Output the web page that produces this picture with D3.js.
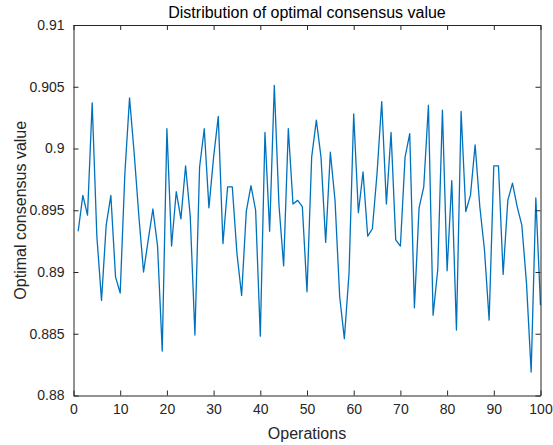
<!DOCTYPE html>
<html>
<head>
<meta charset="utf-8">
<script src="https://cdn.jsdelivr.net/npm/d3@7"></script>
<style>
  body { margin: 0; background: #fff; }
  text { font-family: "Liberation Sans", Arial, sans-serif; }
</style>
</head>
<body>
<div class="chart"></div>
<script>
// values, operations 1..100
const values = [
  0.8933, 0.8962, 0.8946, 0.9037, 0.8929, 0.8877, 0.8938, 0.8962, 0.8896, 0.8883,
  0.8980, 0.9041, 0.8996, 0.8945, 0.8900, 0.8926, 0.8951, 0.8921, 0.8836, 0.9016,
  0.8921, 0.8965, 0.8943, 0.8986, 0.8945, 0.8849, 0.8985, 0.9016, 0.8952, 0.8993,
  0.9026, 0.8923, 0.8969, 0.8969, 0.8915, 0.8881, 0.8949, 0.8970, 0.8950, 0.8848,
  0.9013, 0.8933, 0.9051, 0.8954, 0.8905, 0.9016, 0.8955, 0.8958, 0.8953, 0.8884,
  0.8993, 0.9023, 0.8993, 0.8924, 0.8997, 0.8958, 0.8880, 0.8846, 0.8899, 0.9028,
  0.8948, 0.8981, 0.8929, 0.8935, 0.8980, 0.9038, 0.8955, 0.9013, 0.8926, 0.8921,
  0.8993, 0.9012, 0.8871, 0.8952, 0.8969, 0.9035, 0.8865, 0.8902, 0.9031, 0.8901,
  0.8974, 0.8853, 0.9030, 0.8949, 0.8962, 0.9003, 0.8953, 0.8918, 0.8861, 0.8986,
  0.8986, 0.8898, 0.8958, 0.8972, 0.8953, 0.8938, 0.8891, 0.8819, 0.8960, 0.8873
];
const operations = values.map((v, i) => i + 1);
const xTicks = [0, 10, 20, 30, 40, 50, 60, 70, 80, 90, 100];
const yTicks = [0.88, 0.885, 0.89, 0.895, 0.9, 0.905, 0.91];

const W = 553, H = 445;
const plotL = 73.5, plotR = 540.5, plotT = 25, plotB = 395.5;
const axisColor = "#262626";

const x = d3.scaleLinear().domain([0, 100]).range([plotL, plotR]);
const y = d3.scaleLinear().domain([0.88, 0.91]).range([plotB, plotT]);

const svg = d3.select(".chart").append("svg")
  .attr("width", W)
  .attr("height", H);

// data line
svg.append("path")
  .datum(operations.map((o, i) => [o, values[i]]))
  .attr("fill", "none")
  .attr("stroke", "#0072BD")
  .attr("stroke-width", 1.3)
  .attr("stroke-linejoin", "round")
  .attr("d", d3.line().x(d => x(d[0])).y(d => y(d[1])));

// axes (ticks pointing inward, MATLAB style box)
const fmt = d => String(+d.toFixed(3));
svg.append("g")
  .attr("transform", `translate(0,${plotB})`)
  .call(d3.axisBottom(x).tickValues(xTicks).tickSize(-5).tickPadding(9).tickSizeOuter(0));
svg.append("g")
  .attr("transform", `translate(0,${plotT})`)
  .call(d3.axisTop(x).tickValues(xTicks).tickSize(-5).tickFormat("").tickSizeOuter(0));
svg.append("g")
  .attr("transform", `translate(${plotL},0)`)
  .call(d3.axisLeft(y).tickValues(yTicks).tickSize(-5).tickPadding(9).tickFormat(fmt).tickSizeOuter(0));
svg.append("g")
  .attr("transform", `translate(${plotR},0)`)
  .call(d3.axisRight(y).tickValues(yTicks).tickSize(-5).tickFormat("").tickSizeOuter(0));

svg.selectAll(".domain, .tick line")
  .attr("stroke", axisColor)
  .attr("stroke-width", 1);
svg.selectAll(".tick text")
  .attr("fill", axisColor)
  .style("font-size", "14px")
  .style("font-family", "'Liberation Sans', Arial, sans-serif");

// title and axis labels
svg.append("text")
  .attr("x", (plotL + plotR) / 2)
  .attr("y", 18)
  .attr("text-anchor", "middle")
  .attr("fill", "#000")
  .style("font-size", "16px")
  .text("Distribution of optimal consensus value");

svg.append("text")
  .attr("x", (plotL + plotR) / 2)
  .attr("y", 439)
  .attr("text-anchor", "middle")
  .attr("fill", axisColor)
  .style("font-size", "16px")
  .text("Operations");

svg.append("text")
  .attr("transform", `translate(26,${(plotT + plotB) / 2}) rotate(-90)`)
  .attr("text-anchor", "middle")
  .attr("fill", axisColor)
  .style("font-size", "16px")
  .text("Optimal consensus value");
</script>
</body>
</html>
